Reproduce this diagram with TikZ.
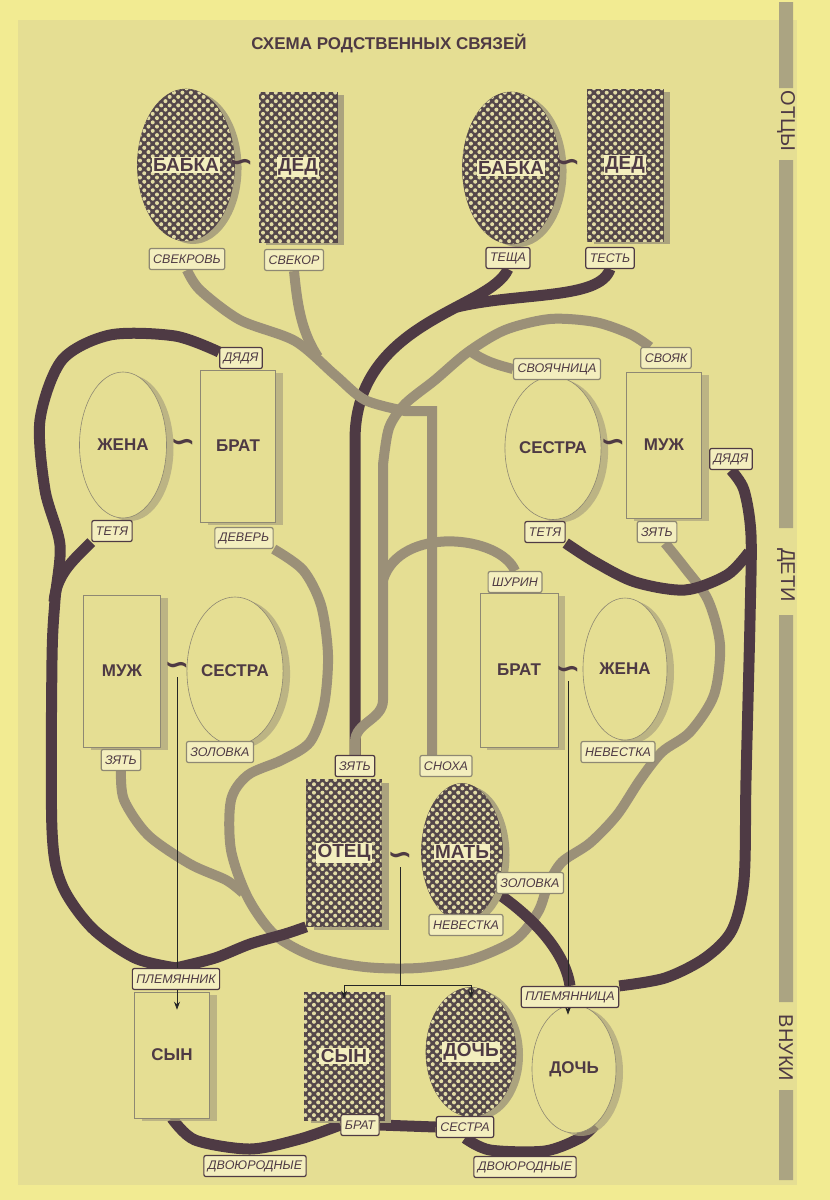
\documentclass[tikz,border=0pt]{standalone}
\usepackage{fontspec}
\setmainfont{Liberation Sans}
\newfontfamily\symb{DejaVu Sans}
\usetikzlibrary{positioning,arrows.meta,shapes.geometric,shadows,patterns.meta}
\definecolor{paper}{HTML}{F2EB92}
\definecolor{panel}{HTML}{E5DE93}
\definecolor{darkln}{HTML}{4E3A44}
\definecolor{liteln}{HTML}{9B9078}
\definecolor{patc}{HTML}{54474A}
\definecolor{holec}{HTML}{E2DCA6}
\definecolor{tagc}{HTML}{F3EEBE}
\definecolor{edgec}{HTML}{8E8873}
\definecolor{shadc}{HTML}{ABA37E}
\definecolor{barc}{HTML}{ABA482}
\pgfdeclarelayer{back}
\pgfdeclarelayer{lines}
\pgfdeclarelayer{front}
\pgfsetlayers{back,lines,main,front}
\newcommand{\boxname}[1]{{\setlength{\fboxsep}{1.5pt}\colorbox{tagc}{#1}}}
\tikzset{
  kin/.style={draw=patc, line width=.6pt, fill=patc,
    postaction={pattern={Dots[distance=6pt,radius=2pt,angle=45]}, pattern color=holec},
    drop shadow={shadow xshift=7pt, shadow yshift=-3pt, fill=shadc, opacity=1},
    inner sep=0pt, font=\fontsize{19}{20}\selectfont\bfseries, text=darkln},
  folk/.style={draw=edgec, line width=.6pt, fill=panel,
    drop shadow={shadow xshift=7pt, shadow yshift=-3pt, fill=shadc, opacity=.7},
    inner sep=0pt, font=\fontsize{17}{18}\selectfont\bfseries, text=darkln},
  man/.style={rectangle, minimum width=76pt, minimum height=150pt},
  woman/.style={ellipse, minimum width=90pt, minimum height=146pt},
  tag/.style={draw=darkln, line width=1.2pt, rounded corners=2pt, fill=tagc,
    inner xsep=4pt, inner ysep=2pt, minimum height=21pt,
    font=\fontsize{12.5}{13}\selectfont\itshape, text=darkln},
  ltag/.style={tag, draw=edgec},
  wed/.style={inner sep=0pt, font=\symb\fontsize{30}{30}\selectfont\bfseries, text=darkln},
  gen/.style={rotate=-90, inner sep=1pt, font=\fontsize{20}{20}\selectfont, text=darkln},
  dark/.style={draw=darkln, line width=11pt},
  lite/.style={draw=liteln, line width=10pt},
  kid/.style={draw=black!85, line width=.8pt, -{Stealth[length=8pt,width=6pt]}},
}
\begin{document}
\begin{tikzpicture}[x=1pt, y=-1pt]
\useasboundingbox (0,0) rectangle (830,1200);
\begin{pgfonlayer}{back}
\fill[paper] (0,0) rectangle (830,1200);
\fill[panel] (18,20) rectangle (797,1185);
\fill[barc] (779,2) rectangle (793,88) (779,160) rectangle (793,528)
  (779,615) rectangle (793,1002) (779,1090) rectangle (793,1180);
\end{pgfonlayer}
\node[font=\fontsize{17}{18}\selectfont\bfseries, text=darkln] (title) at (389,43) {СХЕМА РОДСТВЕННЫХ СВЯЗЕЙ};
\node[gen] (fathers) at (786,121) {ОТЦЫ};
\node[gen] (children) at (786,575) {ДЕТИ};
\node[gen] (grandkids) at (786,1048) {ВНУКИ};

% grandparents
\node[kin, woman, minimum width=95pt, minimum height=152pt] (gmA) at (186,165) {\boxname{БАБКА}};
\node[kin, man, minimum width=78pt] (gfA) at (298,167) {\boxname{ДЕД}};
\node[wed] (mA) at (241,165) {∽};
\node[kin, woman, minimum width=95pt, minimum height=152pt] (gmB) at (511,168) {\boxname{БАБКА}};
\node[kin, man, minimum height=152pt] (gfB) at (625,165) {\boxname{ДЕД}};
\node[wed] (mB) at (568,165) {∽};

% children
\node[folk, woman, minimum width=87pt] (wifeL) at (123,445) {ЖЕНА};
\node[folk, man, minimum width=75pt, minimum height=152pt] (broL) at (238,446) {БРАТ};
\node[wed] (mWL) at (183,445) {∽};
\node[folk, woman, minimum width=92pt, minimum height=143pt] (sisR) at (553,448) {СЕСТРА};
\node[folk, man, minimum width=75pt, minimum height=146pt] (husR) at (664,445) {МУЖ};
\node[wed] (mSR) at (613,445) {∽};
\node[folk, man, minimum width=77pt, minimum height=152pt] (husL) at (122,671) {МУЖ};
\node[folk, woman, minimum width=86pt, minimum height=148pt] (sisL) at (235,671) {СЕСТРА};
\node[wed] (mSL) at (177,668) {∽};
\node[folk, man, minimum width=78pt, minimum height=154pt] (broR) at (519,670) {БРАТ};
\node[folk, woman, minimum width=84pt, minimum height=142pt] (wifeR) at (625,669) {ЖЕНА};
\node[wed] (mBR) at (568,672) {∽};
\node[kin, man, minimum width=75pt, minimum height=147pt] (dad) at (344,853) {\boxname{ОТЕЦ}};
\node[kin, woman, minimum width=81pt, minimum height=137pt] (mom) at (462,852) {\boxname{МАТЬ}};
\node[wed] (mP) at (400,858) {∽};

% grandchildren
\node[folk, man, minimum width=75pt, minimum height=126pt] (sonL) at (172,1055) {СЫН};
\node[kin, man, minimum width=80pt, minimum height=128pt] (son) at (344,1056) {\boxname{СЫН}};
\node[kin, woman, minimum width=90pt, minimum height=129pt] (dau) at (471,1052) {\boxname{ДОЧЬ}};
\node[folk, woman, minimum width=84pt, minimum height=128pt] (dauR) at (574,1069) {ДОЧЬ};

\begin{pgfonlayer}{front}
\node[ltag] (svekrov) at (187,259) {СВЕКРОВЬ};
\node[ltag] (svekor) at (294,260) {СВЕКОР};
\node[tag] (tescha) at (508,258) {ТЕЩА};
\node[tag] (test) at (610,258) {ТЕСТЬ};
\node[tag] (dyadyaL) at (241,358) {ДЯДЯ};
\node[tag] (tetyaL) at (112,531) {ТЕТЯ};
\node[ltag] (deverL) at (244,538) {ДЕВЕРЬ};
\node[ltag] (svoyach) at (557,369) {СВОЯЧНИЦА};
\node[ltag] (svoyak) at (666,358) {СВОЯК};
\node[tag] (dyadyaR) at (731,459) {ДЯДЯ};
\node[tag] (tetyaR) at (545,532) {ТЕТЯ};
\node[ltag] (zyatR) at (657,532) {ЗЯТЬ};
\node[ltag] (shurin) at (515,582) {ШУРИН};
\node[ltag] (zyatL) at (121,760) {ЗЯТЬ};
\node[ltag] (zolL) at (220,752) {ЗОЛОВКА};
\node[ltag] (nevR) at (618,752) {НЕВЕСТКА};
\node[ltag] (snokha) at (446,766) {СНОХА};
\node[tag] (zyatD) at (355,766) {ЗЯТЬ};
\node[ltag] (zolM) at (530,883) {ЗОЛОВКА};
\node[ltag] (nevM) at (466,925) {НЕВЕСТКА};
\node[tag] (plemnik) at (176,979) {ПЛЕМЯННИК};
\node[tag] (plemnitsa) at (570,997) {ПЛЕМЯННИЦА};
\node[tag] (bratB) at (360,1125) {БРАТ};
\node[tag] (sestB) at (465,1127) {СЕСТРА};
\node[tag] (dvL) at (255,1166) {ДВОЮРОДНЫЕ};
\node[tag] (dvR) at (525,1167) {ДВОЮРОДНЫЕ};
\end{pgfonlayer}

\begin{pgfonlayer}{lines}
\draw[dark] (tescha.south) .. controls (490,310) and (355,320) .. (355,440) -- (zyatD.north);
\draw[dark] (test.south) .. controls (600,300) and (520,292) .. (457,307);
\draw[lite] plot[smooth] coordinates {(svekrov.south) (200,290) (240,320) (295,341) (335,375) (365,400) (405,411)}
  -- (432,411) -- ([xshift=-14pt]snokha.north);
\draw[lite] (svekor.south) .. controls (297,300) and (300,330) .. (318,357);
\draw[lite] plot[smooth] coordinates {([xshift=-16pt]svoyak.north) (630,334) (595,322) (550,319) (505,330) (468,352) (435,380) (405,404) (389,428) (383,465)}
  -- (383,700) to[out=-90,in=90] (355,742) -- (zyatD.north);
\draw[lite] (svoyach.west) to[out=165,in=-35] (470,351);
\draw[lite] (shurin.north) .. controls (500,535) and (400,525) .. (383,580);
\draw[lite] plot[smooth] coordinates {([xshift=8pt]zyatR.south) (685,568) (708,600) (720,645) (714,695) (690,732) (662,752)
  (640,780) (617,815) (590,843) (562,862) (548,885) (538,912) (515,940) (470,960) (418,968) (365,967)
  (315,957) (275,935) (248,898) (231,850) (231,800) (248,775) (282,760) (310,742) (324,705) (328,655)
  (321,605) (303,570) (deverL.south east)};
\draw[lite] plot[smooth] coordinates {(zyatL.south) (124,800) (148,835) (190,864) (226,880) (243,893)};
\draw[dark] plot[smooth] coordinates {([yshift=6pt]dyadyaL.west) (175,336) (110,335) (62,360) (40,420) (45,490)
  (60,545) (55,600) (52,660) (52,830) (62,885) (92,928) (135,958) (plemnik.north)};
\draw[dark] plot[smooth] coordinates {(plemnik.north) (215,958) (250,944) (285,934) (dad.south west)};
\draw[dark] (tetyaL.south west) to[out=-135,in=85] (54,602);
\draw[dark] plot[smooth] coordinates {(dyadyaR.south) (744,490) (751,535) (750,620) (746,780) (744,880)
  (732,930) (705,958) (665,978) (plemnitsa.north east)};
\draw[dark] plot[smooth] coordinates {(tetyaR.south east) (595,562) (635,582) (685,590) (727,575) (749,552)};
\draw[dark] (mom.-50) .. controls (530,915) and (565,950) .. (plemnitsa.north);
\draw[dark] plot[smooth] coordinates {(sonL.south) (195,1140) (250,1149) (300,1139) (bratB.west)};
\draw[dark] (bratB.east) -- (sestB.west);
\draw[dark] plot[smooth] coordinates {(sestB.south) (490,1150) (545,1151) (580,1138) (dauR.-70)};
\end{pgfonlayer}

% descent
\coordinate (sonLin) at ([yshift=-18pt]sonL.north);
\coordinate (forky) at (0,985);
\coordinate (fork) at (mP.south |- forky);
\coordinate (sonin) at ([yshift=-7pt]son.north);
\coordinate (dauin) at ([yshift=-11pt]dau.north);
\coordinate (dauRin) at ([yshift=-10pt]dauR.north);
\draw[kid] ([yshift=-3pt]mSL.south) -- (mSL.south |- sonLin);
\draw[kid] ([yshift=-3pt]mP.south) -- (fork) -| (sonin);
\draw[kid] (fork) -| (dauin);
\draw[kid] ([yshift=-3pt]mBR.south) -- (mBR.south |- dauRin);
\end{tikzpicture}
\end{document}
